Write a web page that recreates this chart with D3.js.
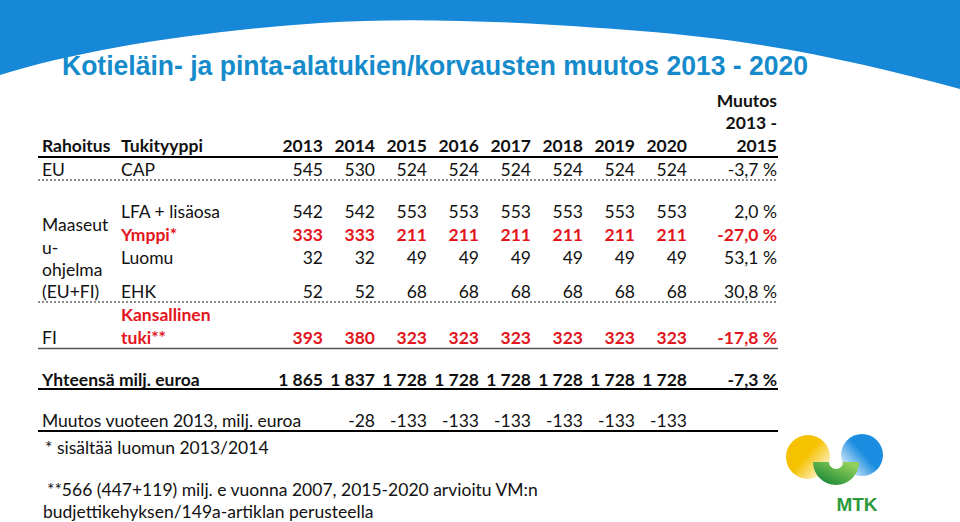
<!DOCTYPE html>
<html><head><meta charset="utf-8">
<script src="https://cdn.jsdelivr.net/npm/d3@7"></script>
<style>body{margin:0;background:#fff}svg{display:block}</style>
</head><body>
<svg id="c" width="960" height="522" viewBox="0 0 960 522"></svg>
<script>
const years = [2013, 2014, 2015, 2016, 2017, 2018, 2019, 2020];
const cap = [545, 530, 524, 524, 524, 524, 524, 524];
const lfa = [542, 542, 553, 553, 553, 553, 553, 553];
const ymppi = [333, 333, 211, 211, 211, 211, 211, 211];
const luomu = [32, 32, 49, 49, 49, 49, 49, 49];
const ehk = [52, 52, 68, 68, 68, 68, 68, 68];
const kansallinen = [393, 380, 323, 323, 323, 323, 323, 323];
const yhteensa = [1865, 1837, 1728, 1728, 1728, 1728, 1728, 1728];
const muutosVuoteen = [null, -28, -133, -133, -133, -133, -133, -133];
const changePct = ["-3,7 %", "2,0 %", "-27,0 %", "53,1 %", "30,8 %", "-17,8 %", "-7,3 %"];

const svg = d3.select("#c");
const BLUE = "#1787d7", TITLE = "#168bcb", RED = "#e3151c";
const FONT = "Lato, 'Noto Sans', sans-serif";
const FS = 17.5;

// blue header band
svg.append("path")
  .attr("d", "M0,0 L960,0 L960,89 C860,62 760,40 640,31 C540,23 420,16 320,23 C200,31 80,50 0,75 Z")
  .attr("fill", BLUE);

svg.append("text").attr("x", 62).attr("y", 75)
  .attr("font-family", "'Liberation Sans', Arial, sans-serif").attr("font-weight", "bold")
  .attr("font-size", 27).attr("fill", TITLE)
  .attr("textLength", 746).attr("lengthAdjust", "spacingAndGlyphs")
  .text("Kotieläin- ja pinta-alatukien/korvausten muutos 2013 - 2020");

const x = d3.scalePoint().domain(years).range([323, 687]);
const xPct = 777, xRah = 42, xTuki = 121, left = 38, right = 778;

function txt(xp, y, s, opt = {}) {
  return svg.append("text").attr("x", xp).attr("y", y)
    .attr("dy", "0.35em")
    .attr("font-family", FONT).attr("font-size", FS)
    .attr("font-weight", opt.bold ? "bold" : "normal")
    .attr("fill", opt.color || "#111")
    .attr("text-anchor", opt.anchor || "start")
    .text(s);
}
function hline(y, opt = {}) {
  svg.append("line").attr("x1", left).attr("x2", right).attr("y1", y).attr("y2", y)
    .attr("stroke", opt.color || "#000").attr("stroke-width", opt.w || 2)
    .attr("stroke-dasharray", opt.dash || null);
}
const fmt = v => {
  const s = String(Math.abs(v));
  const g = s.length > 3 ? s.slice(0, s.length - 3) + " " + s.slice(-3) : s;
  return (v < 0 ? "-" : "") + g;
};
function row(y, values, opt) {
  values.forEach((v, i) => {
    if (v === null) return;
    txt(x(years[i]), y, fmt(v), Object.assign({anchor: "end"}, opt));
  });
}

// header
txt(xPct, 101, "Muutos", {bold: true, anchor: "end"});
txt(xPct, 123, "2013 -", {bold: true, anchor: "end"});
txt(xPct, 146, "2015", {bold: true, anchor: "end"});
txt(xRah, 146, "Rahoitus", {bold: true});
txt(xTuki, 146, "Tukityyppi", {bold: true});
years.forEach(yv => txt(x(yv), 146, String(yv), {bold: true, anchor: "end"}));
hline(157, {w: 2});

// EU
txt(xRah, 170, "EU"); txt(xTuki, 170, "CAP");
row(170, cap, {}); txt(xPct, 170, changePct[0], {anchor: "end"});
hline(180, {w: 1.5, color: "#666", dash: "2,2"});

// Maaseutuohjelma
txt(xRah, 225, "Maaseut"); txt(xRah, 248, "u-"); txt(xRah, 270, "ohjelma"); txt(xRah, 292, "(EU+FI)");
txt(xTuki, 212, "LFA + lisäosa"); row(212, lfa, {}); txt(xPct, 212, changePct[1], {anchor: "end"});
txt(xTuki, 235, "Ymppi*", {bold: true, color: RED}); row(235, ymppi, {bold: true, color: RED});
txt(xPct, 235, changePct[2], {anchor: "end", bold: true, color: RED});
txt(xTuki, 258, "Luomu"); row(258, luomu, {}); txt(xPct, 258, changePct[3], {anchor: "end"});
txt(xTuki, 292, "EHK"); row(292, ehk, {}); txt(xPct, 292, changePct[4], {anchor: "end"});
hline(302, {w: 1.5, color: "#666", dash: "2,2"});

// FI
txt(xRah, 338, "FI");
txt(xTuki, 315, "Kansallinen", {bold: true, color: RED});
txt(xTuki, 338, "tuki**", {bold: true, color: RED});
row(338, kansallinen, {bold: true, color: RED});
txt(xPct, 338, changePct[5], {anchor: "end", bold: true, color: RED});
hline(348.5, {w: 1.5, color: "#555"});

// totals
txt(xRah, 380, "Yhteensä milj. euroa", {bold: true});
row(380, yhteensa, {bold: true});
txt(xPct, 380, changePct[6], {anchor: "end", bold: true});
hline(389, {w: 2});

txt(xRah, 421, "Muutos vuoteen 2013, milj. euroa");
row(421, muutosVuoteen, {});
hline(431, {w: 1.8});

// notes
txt(45, 448, "* sisältää luomun 2013/2014");
txt(47, 490, "**566 (447+119) milj. e vuonna 2007, 2015-2020 arvioitu VM:n");
txt(43, 512, "budjettikehyksen/149a-artiklan perusteella");

// MTK logo
const defs = svg.append("defs");
function grad(id, c1, c2, x1, y1, x2, y2, o1) {
  const g = defs.append("linearGradient").attr("id", id)
    .attr("x1", x1).attr("y1", y1).attr("x2", x2).attr("y2", y2);
  g.append("stop").attr("offset", o1 || "0%").attr("stop-color", c1);
  g.append("stop").attr("offset", "100%").attr("stop-color", c2);
}
grad("gy", "#f6c200", "#ffffff", "0.2", "0.2", "1", "0.9", "35%");
grad("gb", "#1b8de0", "#ffffff", "0.8", "0.2", "0", "0.9", "35%");
grad("gg", "#1d8a36", "#8fcf5a", "0.3", "1", "1", "0.3");
const logo = svg.append("g");
logo.append("circle").attr("cx", 808).attr("cy", 457).attr("r", 22).attr("fill", "url(#gy)");
logo.append("circle").attr("cx", 862).attr("cy", 455).attr("r", 21).attr("fill", "url(#gb)");
const arc = d3.arc();
logo.append("path").attr("transform", "translate(836,462)")
  .attr("d", arc({innerRadius: 7, outerRadius: 23, startAngle: Math.PI * 0.5, endAngle: Math.PI * 1.5}))
  .attr("fill", "url(#gg)");
logo.append("text").attr("x", 857).attr("y", 511).attr("text-anchor", "middle")
  .attr("font-family", "'Liberation Sans', Arial, sans-serif").attr("font-weight", "bold")
  .attr("font-size", 19).attr("fill", "#2a9a3c").text("MTK");
</script>
</body></html>
